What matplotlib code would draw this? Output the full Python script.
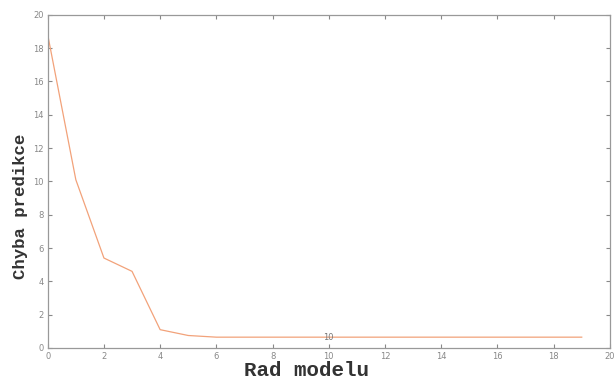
import matplotlib
matplotlib.use("Agg")
import matplotlib.pyplot as plt

order = list(range(0, 20))
error = [18.8, 10.1, 5.4, 4.6, 1.1, 0.75, 0.65, 0.65, 0.65, 0.65, 0.65, 0.65, 0.65, 0.65, 0.65, 0.65, 0.65, 0.65, 0.65, 0.65]
xticks = list(range(0, 21, 2))
yticks = list(range(0, 21, 2))

fig = plt.figure(figsize=(6.15, 3.83), dpi=100)
ax = fig.add_axes([0.0776, 0.0914, 0.914, 0.870])
ax.plot(order, error, color="#f2a27a", linewidth=0.9)
ax.text(10, error[10], "10", ha="center", va="center", fontsize=6, color="#777777")
ax.set_xlim(0, 20)
ax.set_ylim(0, 20)
ax.set_xticks(xticks)
ax.set_yticks(yticks)
ax.tick_params(direction="in", length=3, labelsize=6, colors="#888888", top=True, right=True, labeltop=False, labelright=False, pad=3)
for s in ax.spines.values():
    s.set_color("#999999")
    s.set_linewidth(0.9)
ax.set_xlabel("Rad modelu", fontsize=15, fontweight="bold", family="Liberation Mono", color="#333333", va="center")
ax.xaxis.set_label_coords(0.461, -0.069)
ax.set_ylabel("Chyba predikce", fontsize=12.5, fontweight="bold", family="Liberation Mono", color="#333333", va="center")
ax.yaxis.set_label_coords(-0.048, 0.426)
fig.savefig("out.png", dpi=100)
